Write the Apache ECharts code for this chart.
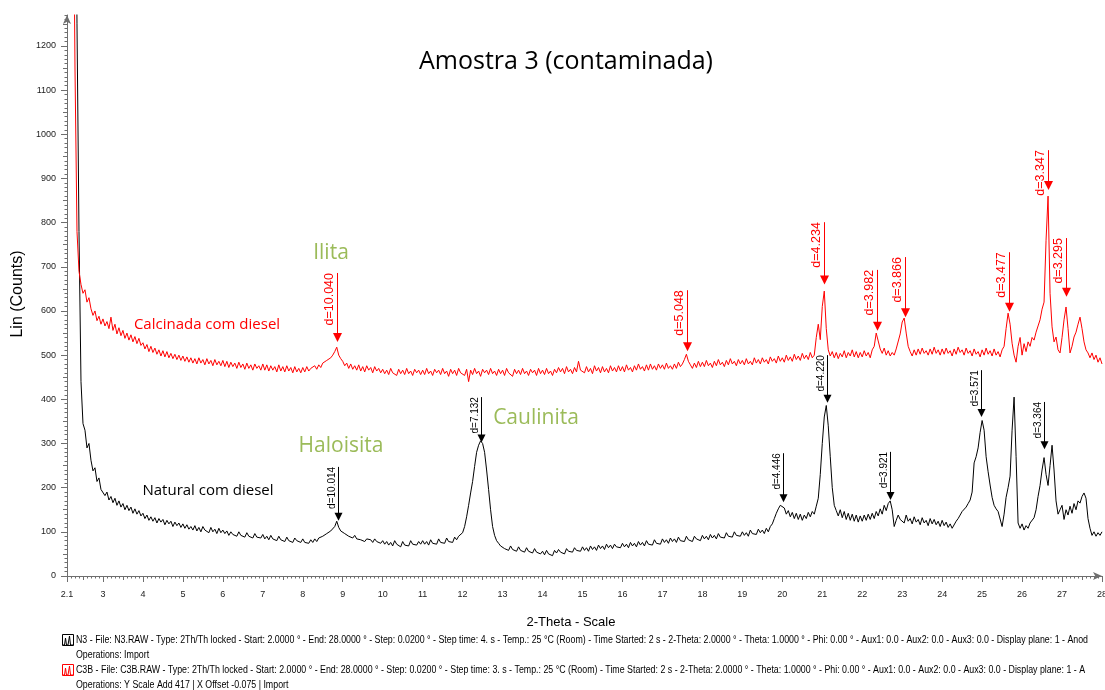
<!DOCTYPE html>
<html>
<head>
<meta charset="utf-8">
<script src="https://cdn.jsdelivr.net/npm/echarts@6/dist/echarts.min.js"></script>
<style>html,body{margin:0;padding:0;background:#fff}#c{width:1105px;height:690px}</style>
</head>
<body>
<div id="c"></div>
<script>
// ---- DATA ----
const scanStart = 2.1;   // 2-Theta of the first point
const scanStep = 0.05;   // 2-Theta step between points

// Natural com diesel (N3) - Lin (Counts)
const naturalCounts = [
  5200, 4300, 3400, 2600, 1850, 1250, 780, 440, 345, 330, 290, 300, 262, 238, 245, 214, 222, 196,
  200, 182, 190, 172, 180, 166, 176, 160, 170, 156, 164, 150, 160, 148, 156, 142, 152, 140, 148, 136,
  142, 130, 138, 126, 134, 124, 132, 120, 130, 122, 128, 116, 126, 118, 124, 112, 122, 114, 120, 110,
  118, 108, 116, 106, 112, 104, 114, 102, 110, 100, 112, 104, 108, 98, 110, 100, 106, 96, 108, 98,
  104, 96, 102, 92, 100, 94, 98, 90, 100, 92, 96, 88, 98, 90, 94, 86, 96, 88, 92, 86,
  94, 84, 90, 82, 92, 84, 88, 80, 90, 82, 86, 78, 88, 80, 84, 76, 86, 80, 82, 76,
  84, 76, 80, 74, 82, 76, 84, 78, 86, 82, 90, 86, 96, 92, 102, 100, 112, 124, 110, 102,
  104, 96, 98, 90, 94, 86, 92, 84, 88, 82, 86, 78, 84, 80, 82, 76, 84, 78, 80, 74,
  80, 72, 78, 70, 76, 68, 80, 72, 74, 66, 78, 70, 74, 68, 80, 72, 76, 70, 78, 72,
  80, 72, 78, 70, 82, 74, 78, 72, 84, 76, 80, 74, 86, 78, 82, 76, 88, 82, 90, 86,
  98, 112, 134, 160, 188, 214, 248, 280, 296, 306, 300, 280, 240, 196, 150, 112, 92, 80, 74, 68,
  70, 62, 66, 58, 68, 60, 64, 56, 66, 58, 62, 54, 64, 56, 60, 52, 62, 54, 58, 50,
  56, 48, 58, 50, 54, 46, 58, 52, 60, 54, 58, 50, 62, 56, 60, 54, 64, 58, 62, 56,
  66, 58, 64, 56, 68, 60, 66, 58, 70, 62, 68, 60, 72, 64, 70, 62, 72, 66, 70, 64,
  74, 66, 72, 64, 76, 68, 74, 66, 78, 70, 76, 68, 80, 72, 76, 70, 82, 74, 78, 72,
  84, 76, 82, 74, 86, 78, 84, 76, 88, 80, 84, 78, 90, 82, 86, 78, 90, 84, 88, 80,
  92, 84, 90, 82, 94, 86, 92, 84, 96, 88, 92, 86, 98, 90, 94, 88, 100, 92, 96, 90,
  100, 92, 98, 90, 104, 96, 100, 94, 106, 98, 104, 96, 108, 100, 112, 118, 130, 142, 152, 160,
  162, 154, 140, 148, 134, 144, 130, 142, 128, 140, 126, 138, 130, 144, 134, 146, 140, 158, 176, 230,
  300, 360, 386, 340, 270, 200, 160, 148, 136, 150, 132, 146, 128, 142, 126, 140, 124, 138, 122, 136,
  124, 138, 126, 140, 128, 142, 130, 146, 136, 152, 140, 160, 148, 164, 170, 150, 112, 126, 138, 128,
  132, 120, 138, 124, 130, 118, 134, 122, 128, 116, 132, 120, 126, 114, 130, 118, 128, 116, 124, 112,
  126, 114, 122, 110, 118, 108, 112, 124, 130, 138, 146, 150, 156, 164, 172, 190, 256, 270, 290, 325,
  352, 330, 270, 236, 206, 178, 160, 152, 146, 148, 112, 140, 178, 200, 226, 330, 405, 270, 120, 108,
  118, 104, 114, 108, 120, 116, 132, 150, 180, 205, 240, 268, 230, 205, 250, 296, 240, 170, 140, 150,
  160, 128, 150, 138, 158, 142, 164, 150, 170, 165, 180, 188, 176, 130, 108, 92, 100, 90, 98, 92,
  100
];

// Calcinada com diesel (C3B, Y scale add 417) - Lin (Counts)
const calcinadaCounts = [
  4000, 3200, 2400, 1700, 1150, 780, 690, 660, 640, 648, 620, 630, 605, 590, 600, 578, 588, 570,
  582, 566, 576, 560, 586, 556, 570, 548, 562, 544, 556, 538, 550, 534, 546, 530, 542, 526, 538, 522,
  528, 514, 524, 508, 520, 506, 516, 502, 512, 498, 510, 496, 508, 494, 504, 492, 502, 490, 500, 488,
  498, 486, 496, 484, 494, 482, 492, 480, 494, 482, 490, 478, 492, 480, 488, 476, 490, 478, 486, 476,
  488, 474, 486, 472, 484, 474, 482, 470, 484, 472, 480, 468, 482, 470, 478, 466, 480, 470, 476, 466,
  480, 466, 478, 464, 476, 466, 474, 462, 478, 464, 474, 462, 476, 464, 472, 460, 474, 462, 470, 460,
  472, 462, 474, 464, 470, 466, 476, 468, 478, 472, 482, 478, 488, 486, 494, 500, 508, 518, 500, 492,
  486, 476, 482, 470, 480, 468, 476, 466, 478, 464, 474, 462, 476, 466, 472, 460, 474, 464, 470, 460,
  468, 458, 466, 456, 470, 460, 464, 454, 468, 458, 466, 456, 470, 458, 464, 454, 468, 460, 466, 456,
  466, 456, 470, 458, 464, 454, 468, 460, 466, 456, 470, 458, 464, 452, 468, 458, 466, 454, 470, 460,
  464, 454, 468, 440, 466, 456, 470, 458, 464, 452, 468, 460, 466, 456, 470, 458, 464, 454, 468, 458,
  466, 454, 470, 460, 464, 452, 468, 458, 466, 456, 470, 458, 464, 454, 468, 460, 466, 454, 470, 458,
  466, 456, 470, 458, 464, 454, 468, 460, 472, 462, 470, 458, 474, 462, 468, 458, 472, 462, 486, 466,
  470, 460, 474, 462, 470, 458, 476, 464, 472, 460, 474, 462, 470, 460, 476, 464, 472, 462, 476, 464,
  474, 462, 478, 466, 472, 462, 476, 466, 480, 468, 474, 464, 478, 466, 480, 468, 476, 466, 480, 470,
  478, 468, 482, 470, 476, 468, 480, 470, 484, 474, 480, 490, 502, 486, 478, 470, 482, 472, 486, 474,
  484, 474, 488, 476, 482, 472, 486, 476, 490, 478, 484, 474, 488, 478, 492, 480, 486, 476, 490, 480,
  488, 478, 492, 480, 486, 478, 494, 482, 490, 480, 494, 484, 490, 480, 496, 486, 492, 482, 498, 486,
  494, 484, 500, 488, 496, 486, 502, 490, 498, 488, 504, 492, 500, 490, 506, 494, 500, 540, 570, 535,
  610, 645, 560, 512, 498, 508, 494, 506, 492, 504, 496, 510, 494, 506, 498, 512, 496, 508, 494, 506,
  496, 510, 498, 506, 494, 512, 520, 550, 532, 514, 504, 516, 500, 510, 498, 506, 500, 514, 516, 548,
  575, 584, 550, 520, 508, 498, 512, 500, 514, 502, 516, 504, 510, 500, 514, 502, 518, 504, 512, 500,
  514, 502, 516, 504, 510, 498, 514, 502, 518, 506, 512, 500, 516, 504, 510, 498, 514, 502, 508, 496,
  512, 500, 516, 502, 510, 498, 514, 500, 508, 496, 512, 520, 560, 595, 570, 527, 500, 484, 520, 540,
  500, 526, 508, 530, 520, 540, 534, 552, 566, 580, 604, 620, 760, 860, 640, 564, 530, 541, 512, 505,
  540, 580, 609, 560, 505, 520, 541, 552, 570, 586, 560, 530, 512, 505, 494, 505, 490, 500, 484, 494,
  480
];

// d-spacing markers
const redMarkX     = [8.86, 17.62, 21.04, 22.37, 23.07, 25.67, 26.65, 27.10];
const redMarkTip   = [530, 509, 660, 555, 586, 598, 874, 632];
const redMarkTop   = [686, 647, 801, 693, 722, 733, 964, 765];
const redMarkLabel = ['d=10.040', 'd=5.048', 'd=4.234', 'd=3.982', 'd=3.866', 'd=3.477', 'd=3.347', 'd=3.295'];

const blackMarkX     = [8.88, 12.46, 20.02, 21.12, 22.70, 24.97, 26.55];
const blackMarkTip   = [125, 302, 167, 392, 172, 360, 287];
const blackMarkTop   = [247, 405, 278, 500, 281, 466, 394];
const blackMarkLabel = ['d=10.014', 'd=7.132', 'd=4.446', 'd=4.220', 'd=3.921', 'd=3.571', 'd=3.364'];

// tick labels
const xTickLabels = [2.1, 3, 4, 5, 6, 7, 8, 9, 10, 11, 12, 13, 14, 15, 16, 17, 18, 19, 20, 21, 22, 23, 24, 25, 26, 27, 28];
const yTickLabels = [0, 100, 200, 300, 400, 500, 600, 700, 800, 900, 1000, 1100, 1200];

const footerLines = [
  'N3 - File: N3.RAW - Type: 2Th/Th locked - Start: 2.0000 ° - End: 28.0000 ° - Step: 0.0200 ° - Step time: 4. s - Temp.: 25 °C (Room) - Time Started: 2 s - 2-Theta: 2.0000 ° - Theta: 1.0000 ° - Phi: 0.00 ° - Aux1: 0.0 - Aux2: 0.0 - Aux3: 0.0 - Display plane: 1 - Anod',
  'Operations: Import',
  'C3B - File: C3B.RAW - Type: 2Th/Th locked - Start: 2.0000 ° - End: 28.0000 ° - Step: 0.0200 ° - Step time: 3. s - Temp.: 25 °C (Room) - Time Started: 2 s - 2-Theta: 2.0000 ° - Theta: 1.0000 ° - Phi: 0.00 ° - Aux1: 0.0 - Aux2: 0.0 - Aux3: 0.0 - Display plane: 1 - A',
  'Operations: Y Scale Add 417 | X Offset -0.075 | Import'
];

// ---- BUILD ----
const naturalData = naturalCounts.map((v, i) => [+(scanStart + i * scanStep).toFixed(2), v]);
const calcinadaData = calcinadaCounts.map((v, i) => [+(scanStart + i * scanStep).toFixed(2), v]);
const redMarks = redMarkX.map((x, i) => [x, redMarkTip[i], redMarkTop[i]]);
const blackMarks = blackMarkX.map((x, i) => [x, blackMarkTip[i], blackMarkTop[i]]);

const axisColor = '#6e6e6e';
const intTicks = xTickLabels.slice();
const halfTicks = [];
for (let v = 2.5; v < 28; v += 1) halfTicks.push(v);
const y50Ticks = [];
for (let v = 50; v < 1270; v += 100) y50Ticks.push(v);

function markRender(color, fontSize, aw, ah, labels) {
  return function (params, api) {
    const x = api.value(0), tip = api.value(1), top = api.value(2);
    const pTip = api.coord([x, tip]);
    const pTop = api.coord([x, top]);
    const px = Math.round(pTip[0]) + 0.5;
    return {
      type: 'group',
      children: [
        { type: 'line', shape: { x1: px, y1: pTop[1], x2: px, y2: pTip[1] - ah + 1 },
          style: { stroke: color, lineWidth: 1 } },
        { type: 'polygon', shape: { points: [[px - aw / 2, pTip[1] - ah], [px + aw / 2, pTip[1] - ah], [px, pTip[1]]] },
          style: { fill: color } },
        { type: 'text', x: px - 1.5, y: pTop[1], rotation: Math.PI / 2,
          style: { text: labels[params.dataIndex], fill: color,
                   font: fontSize + 'px "Liberation Sans", Arial, sans-serif',
                   textAlign: 'right', align: 'right', textVerticalAlign: 'bottom', verticalAlign: 'bottom' } }
      ]
    };
  };
}

// footer scaling to the narrow instrument font
const mctx = document.createElement('canvas').getContext('2d');
mctx.font = '10px "Liberation Sans"';
const footScale = 1012 / mctx.measureText(footerLines[0]).width;
const footY = [640, 655, 670, 685];

function footerText(i) {
  return { type: 'text', x: 76, y: footY[i], scaleX: footScale, scaleY: 1,
    style: { text: footerLines[i], fill: '#000', font: '10px "Liberation Sans", Arial, sans-serif',
             textAlign: 'left', align: 'left', textVerticalAlign: 'middle', verticalAlign: 'middle' } };
}
function icon(y, color) {
  return { type: 'group', children: [
    { type: 'rect', shape: { x: 62.5, y: y - 5.5, width: 11, height: 11 }, style: { stroke: color, fill: 'none', lineWidth: 1 } },
    { type: 'polyline', shape: { points: [[63, y + 5], [64.5, y + 5], [65.5, y - 2], [66.5, y + 5], [68, y + 5], [69.5, y - 4], [70.5, y + 5], [73, y + 5]] },
      style: { stroke: color, fill: 'none', lineWidth: 1 } }
  ] };
}
function label(text, x, y, size, color, family) {
  return { type: 'text', x: x, y: y,
    style: { text: text, fill: color, font: size + 'px ' + family,
             textAlign: 'center', align: 'center', textVerticalAlign: 'middle', verticalAlign: 'middle' } };
}

const chart = echarts.init(document.getElementById('c'), null, { renderer: 'canvas' });
chart.setOption({
  animation: false,
  backgroundColor: '#fff',
  grid: { left: 67, right: 3, top: 15, bottom: 114, containLabel: false, outerBoundsMode: 'none' },
  xAxis: [
    { type: 'value', min: 2.1, max: 28, position: 'bottom',
      axisLine: { show: true, onZero: false, symbol: ['none', 'arrow'], symbolSize: [6, 9], lineStyle: { color: axisColor, width: 1 } },
      axisTick: { show: true, customValues: intTicks, length: 6, lineStyle: { color: axisColor } },
      axisLabel: { customValues: xTickLabels, margin: 14, fontSize: 9, color: '#222', fontFamily: '"Liberation Sans", Arial', formatter: v => String(v) },
      splitLine: { show: false } },
    { type: 'value', min: 2.1, max: 28, interval: 0.1, position: 'bottom',
      axisLine: { show: false }, axisLabel: { show: false }, splitLine: { show: false },
      axisTick: { show: true, length: 2.5, lineStyle: { color: axisColor } } },
    { type: 'value', min: 2.1, max: 28, position: 'bottom',
      axisLine: { show: false }, axisLabel: { show: false }, splitLine: { show: false },
      axisTick: { show: true, customValues: halfTicks, length: 4, lineStyle: { color: axisColor } } }
  ],
  yAxis: [
    { type: 'value', min: 0, max: 1270, position: 'left',
      axisLine: { show: true, onZero: false, symbol: ['none', 'arrow'], symbolSize: [6, 9], lineStyle: { color: axisColor, width: 1 } },
      axisTick: { show: true, customValues: yTickLabels, length: 6, lineStyle: { color: axisColor } },
      axisLabel: { customValues: yTickLabels, margin: 11, fontSize: 9, color: '#222', fontFamily: '"Liberation Sans", Arial', formatter: v => String(v) },
      splitLine: { show: false } },
    { type: 'value', min: 0, max: 1270, interval: 10, position: 'left',
      axisLine: { show: false }, axisLabel: { show: false }, splitLine: { show: false },
      axisTick: { show: true, length: 2.5, lineStyle: { color: axisColor } } },
    { type: 'value', min: 0, max: 1270, position: 'left',
      axisLine: { show: false }, axisLabel: { show: false }, splitLine: { show: false },
      axisTick: { show: true, customValues: y50Ticks, length: 4, lineStyle: { color: axisColor } } }
  ],
  series: [
    { name: 'Natural com diesel', type: 'line', data: naturalData, showSymbol: false, symbol: 'none',
      lineStyle: { color: '#000', width: 1 }, itemStyle: { color: '#000' }, clip: true, z: 3 },
    { name: 'Calcinada com diesel', type: 'line', data: calcinadaData, showSymbol: false, symbol: 'none',
      lineStyle: { color: '#ff0000', width: 1 }, itemStyle: { color: '#ff0000' }, clip: true, z: 3 },
    { type: 'custom', data: redMarks, renderItem: markRender('#ff0000', 12.5, 9, 9, redMarkLabel), z: 4 },
    { type: 'custom', data: blackMarks, renderItem: markRender('#000', 10, 8, 8, blackMarkLabel), z: 4 }
  ],
  graphic: [
    label('Amostra 3 (contaminada)', 566, 62, 25, '#000', '"Open Sans", sans-serif'),
    label('Ilita', 331, 253, 21, '#9bbb59', '"Open Sans", sans-serif'),
    label('Haloisita', 341, 446, 21, '#9bbb59', '"Open Sans", sans-serif'),
    label('Caulinita', 536, 418, 21, '#9bbb59', '"Open Sans", sans-serif'),
    label('Calcinada com diesel', 207, 325, 15, '#ff0000', '"Open Sans", sans-serif'),
    label('Natural com diesel', 208, 491, 15, '#000', '"Open Sans", sans-serif'),
    label('2-Theta - Scale', 571, 622, 13, '#000', '"Liberation Sans", Arial, sans-serif'),
    { type: 'text', x: 18, y: 294, rotation: Math.PI / 2,
      style: { text: 'Lin (Counts)', fill: '#000', font: '16px "Liberation Sans", Arial, sans-serif',
               textAlign: 'center', align: 'center', textVerticalAlign: 'middle', verticalAlign: 'middle' } },
    icon(footY[0], '#000'),
    icon(footY[2], '#ff0000'),
    footerText(0), footerText(1), footerText(2), footerText(3)
  ]
});
</script>
</body>
</html>
